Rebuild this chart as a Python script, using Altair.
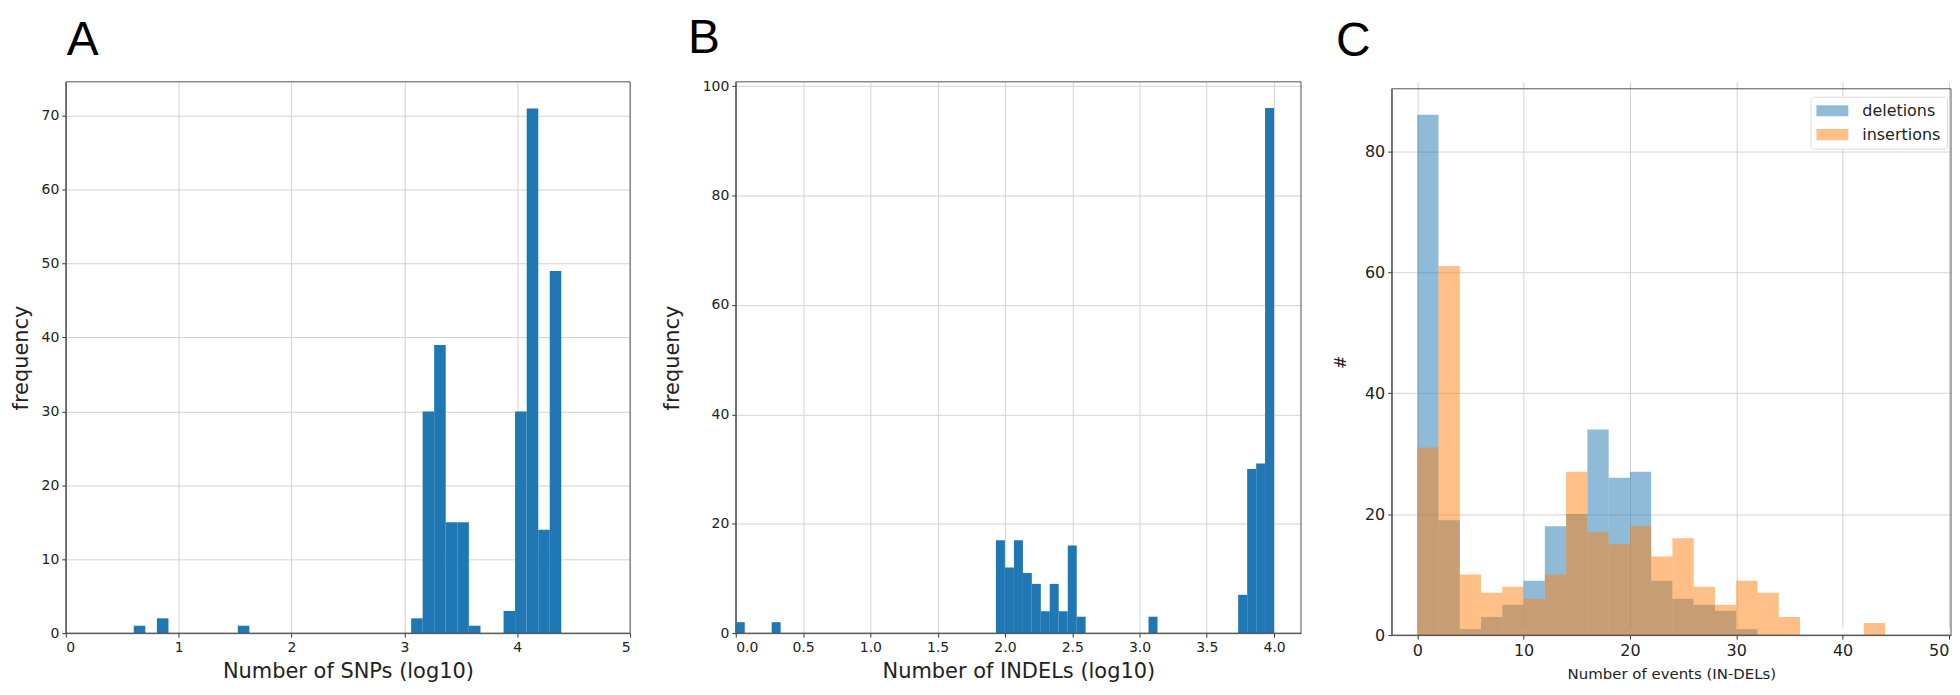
import altair as alt
import pandas as pd

# ---------------- data ----------------
# Panel A: histogram of number of SNPs (log10)
snp_bin_start = [0.602, 0.807, 1.524, 3.060, 3.162, 3.264, 3.367, 3.469, 3.572,
                 3.879, 3.981, 4.084, 4.186, 4.288]
snp_counts = [1, 2, 1, 2, 30, 39, 15, 15, 1, 3, 30, 71, 14, 49]
snp_bin_width = 0.1024

# Panel B: histogram of number of INDELs (log10)
indel_bin_start = [0.000, 0.267, 1.933, 2.000, 2.067, 2.133, 2.200, 2.267, 2.333,
                   2.400, 2.467, 2.533, 3.067, 3.733, 3.800, 3.867, 3.933]
indel_counts = [2, 2, 17, 12, 17, 11, 9, 4, 9, 4, 16, 3, 3, 7, 30, 31, 96]
indel_bin_width = 0.0667

# Panel C: number of events (IN-DELs)
event_bin_start = [0, 2, 4, 6, 8, 10, 12, 14, 16, 18, 20, 22, 24, 26, 28, 30,
                   32, 34, 36, 38, 40, 42]
deletion_counts = [86, 19, 1, 3, 5, 9, 18, 20, 34, 26, 27, 9, 6, 5, 4, 1,
                   0, 0, 0, 0, 0, 0]
insertion_counts = [31, 61, 10, 7, 8, 6, 10, 27, 17, 15, 18, 13, 16, 8, 5, 9,
                    7, 3, 0, 0, 0, 2]
event_bin_width = 2
series_names = ["deletions", "insertions"]
series_colors = ["#1f77b4", "#ff7f0e"]

# ticks and axis limits
a_xticks = [0, 1, 2, 3, 4, 5]
a_yticks = [0, 10, 20, 30, 40, 50, 60, 70]
a_xlim = [0, 5]
a_ylim = [0, 74.6]
b_xticks = [0.0, 0.5, 1.0, 1.5, 2.0, 2.5, 3.0, 3.5, 4.0]
b_yticks = [0, 20, 40, 60, 80, 100]
b_xlim = [0, 4.2]
b_ylim = [0, 100.8]
c_xticks = [0, 10, 20, 30, 40, 50]
c_yticks = [0, 20, 40, 60, 80]
c_xlim = [-2.4, 50.2]
c_ylim = [0, 90.3]

# ---------------- style ----------------
FONT = "DejaVu Sans"
TFONT = "Liberation Sans"
FRAME = "#555555"
GRID = "#d3d3d3"
TICK = "#333333"
TXT = "#222222"
BLUE = "#1f77b4"


def x_axis(values, title, label_size, title_size, title_pad, fmt, flush=None):
    kw = dict(values=values, title=title, format=fmt, grid=True, gridColor=GRID,
              gridWidth=1, domainColor=FRAME, tickColor=TICK, tickSize=4,
              labelPadding=3, labelFont=FONT, labelFontSize=label_size,
              labelColor=TXT, titleFont=FONT, titleFontSize=title_size,
              titleFontWeight="normal", titleColor=TXT, titlePadding=title_pad,
              labelOverlap=False)
    if flush is not None:
        kw["labelFlush"] = flush
    return alt.Axis(**kw)


def y_axis(values, title, label_size, title_size, title_pad, extent):
    return alt.Axis(values=values, title=title, format="d", grid=True, gridColor=GRID,
                    gridWidth=1, domainColor=FRAME, tickColor=TICK, tickSize=4,
                    labelPadding=3, labelFont=FONT, labelFontSize=label_size,
                    labelColor=TXT, titleFont=FONT, titleFontSize=title_size,
                    titleFontWeight="normal", titleColor=TXT, titlePadding=title_pad,
                    minExtent=extent, maxExtent=extent, labelOverlap=False)


def frame(xlim, ylim):
    df = pd.DataFrame({"x0": [xlim[0]], "x1": [xlim[1]], "y0": [ylim[0]], "y1": [ylim[1]]})
    return alt.Chart(df).mark_rect(fillOpacity=0, stroke=FRAME, strokeWidth=1).encode(
        x="x0:Q", x2="x1:Q", y="y0:Q", y2="y1:Q")


def letter(text, dx):
    return alt.Title(text, anchor="start", frame="group", font=TFONT, fontSize=48,
                     fontWeight="normal", color="black", offset=16, dx=dx)


# ---------------- panel A ----------------
a_df = pd.DataFrame({"start": snp_bin_start, "count": snp_counts})
a_df["end"] = a_df["start"] + snp_bin_width
a_df["base"] = 0
a_bars = alt.Chart(a_df).mark_rect(color=BLUE).encode(
    x=alt.X("start:Q", scale=alt.Scale(domain=a_xlim, nice=False, zero=False),
            axis=x_axis(a_xticks, "Number of SNPs (log10)", 14, 21, 7, "d")),
    x2="end:Q",
    y=alt.Y("count:Q", scale=alt.Scale(domain=a_ylim, nice=False),
            axis=y_axis(a_yticks, "frequency", 14, 21, 9, 25)),
    y2="base:Q",
)
panel_a = alt.layer(a_bars, frame(a_xlim, a_ylim)).properties(
    width=566, height=553, title=letter("A", 1))

# ---------------- panel B ----------------
b_df = pd.DataFrame({"start": indel_bin_start, "count": indel_counts})
b_df["end"] = b_df["start"] + indel_bin_width
b_df["base"] = 0
b_bars = alt.Chart(b_df).mark_rect(color=BLUE).encode(
    x=alt.X("start:Q", scale=alt.Scale(domain=b_xlim, nice=False, zero=False),
            axis=x_axis(b_xticks, "Number of INDELs (log10)", 14, 21, 7, ".1f")),
    x2="end:Q",
    y=alt.Y("count:Q", scale=alt.Scale(domain=b_ylim, nice=False),
            axis=y_axis(b_yticks, "frequency", 14, 21, 19, 34)),
    y2="base:Q",
)
panel_b = alt.layer(b_bars, frame(b_xlim, b_ylim)).properties(
    width=567, height=553, title=letter("B", -48))

# ---------------- panel C ----------------
n = len(event_bin_start)
c_df = pd.DataFrame({
    "start": event_bin_start + event_bin_start,
    "count": deletion_counts + insertion_counts,
    "series": [series_names[0]] * n + [series_names[1]] * n,
})
c_df = c_df[c_df["count"] > 0].reset_index(drop=True)
c_df["end"] = c_df["start"] + event_bin_width
c_df["base"] = 0

C_H = 555
C_TOP = 7
c_bars = alt.Chart(c_df).mark_rect(opacity=0.5).encode(
    x=alt.X("start:Q", scale=alt.Scale(domain=c_xlim, nice=False, zero=False),
            axis=x_axis(c_xticks, "Number of events (IN-DELs)", 16, 15, 9, "d", flush=5)),
    x2="end:Q",
    y=alt.Y("count:Q", scale=alt.Scale(domain=c_ylim, nice=False, range=[C_H, C_TOP]),
            axis=y_axis(c_yticks, "#", 16, 16, 15, 28)),
    y2="base:Q",
    color=alt.Color("series:N", scale=alt.Scale(domain=series_names, range=series_colors),
                    legend=alt.Legend(title=None, orient="none", legendX=420, legendY=15,
                                      symbolType="M-1,-0.7H3V0.7H-1Z", symbolSize=256,
                                      symbolOpacity=0.5, symbolStrokeWidth=0,
                                      labelFont=FONT, labelFontSize=16, labelColor=TXT,
                                      labelOffset=30, rowPadding=8, padding=6,
                                      fillColor="white", strokeColor="#dddddd",
                                      cornerRadius=3)),
)
panel_c = alt.layer(c_bars, frame(c_xlim, c_ylim)).properties(
    width=561, height=C_H, title=letter("C", -56))

chart = alt.hconcat(panel_a, panel_b, panel_c, spacing=31).resolve_legend(
    color="independent"
).properties(
    padding={"left": 3, "top": 6, "right": 0, "bottom": 0}, background="white"
).configure_view(strokeWidth=0)

chart.save("out.html", embed_options={"renderer": "svg", "actions": False})
